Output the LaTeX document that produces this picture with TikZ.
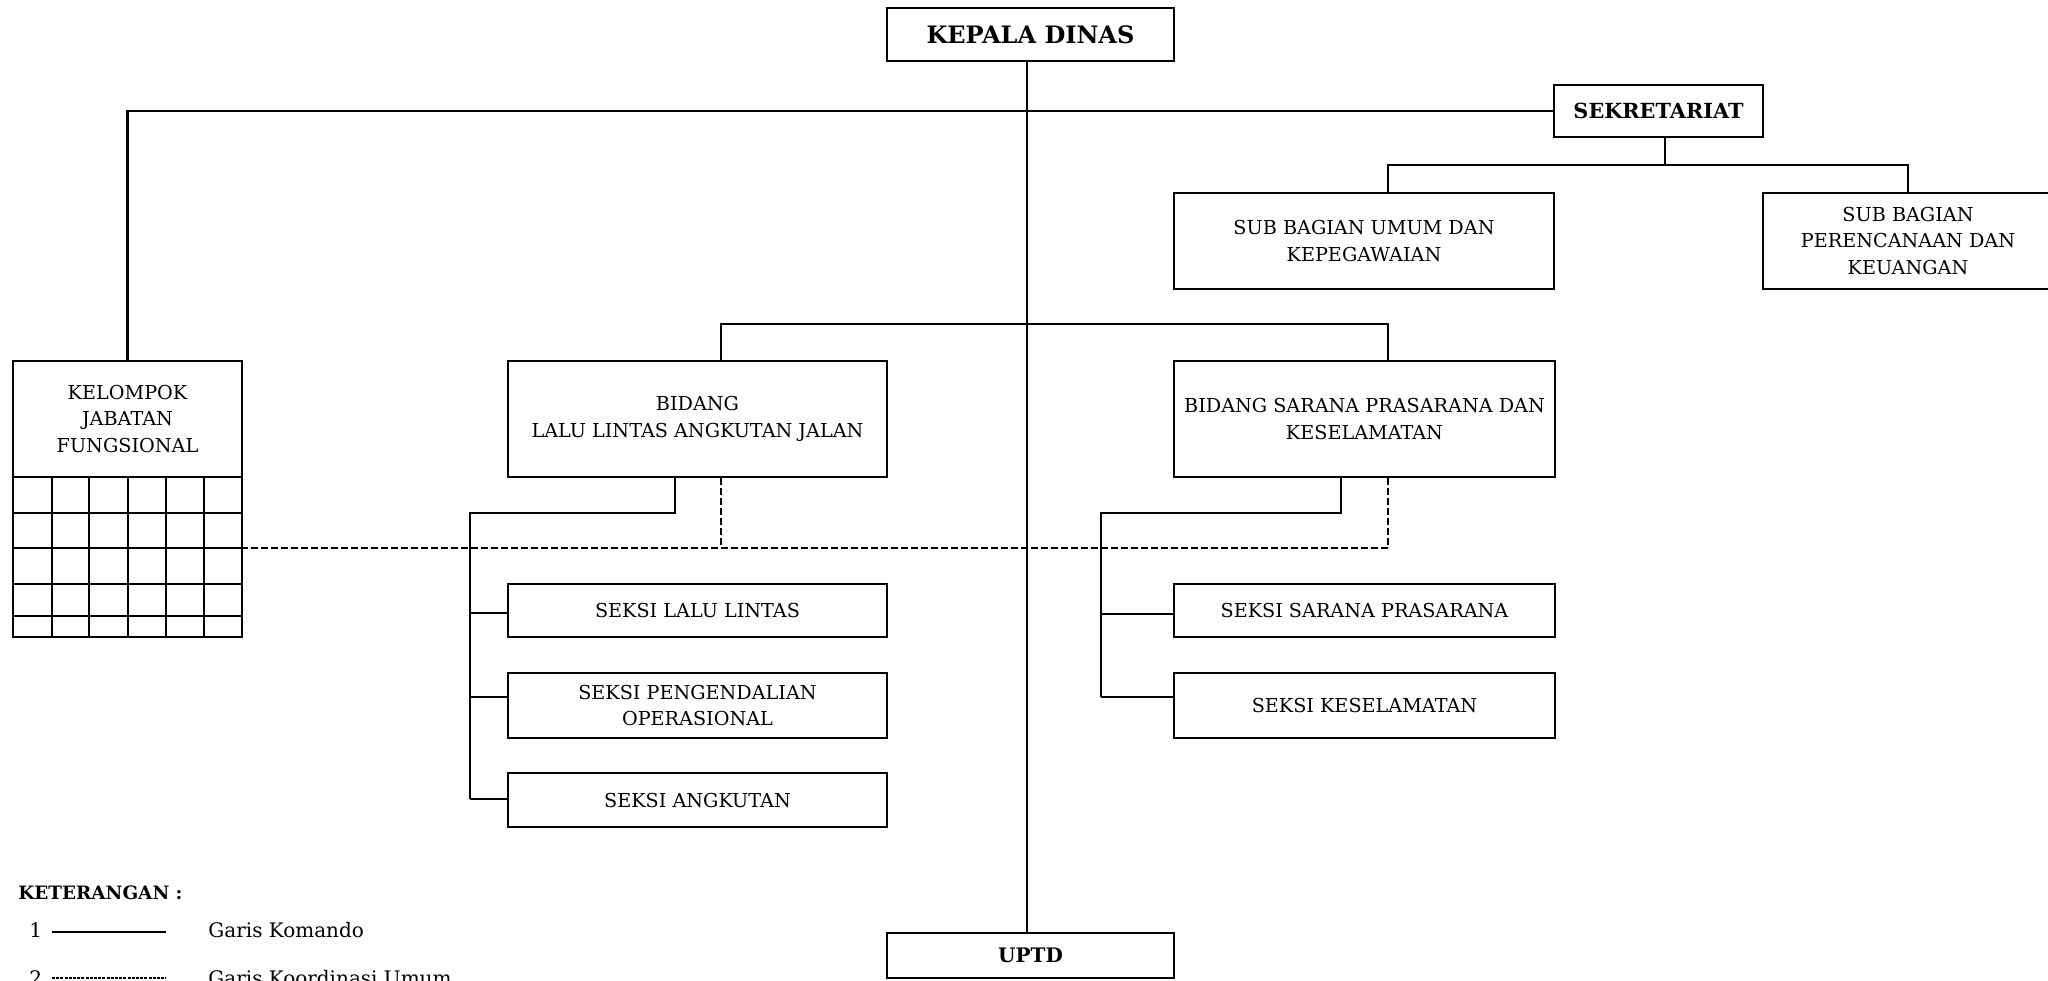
\documentclass[tikz,border=0pt]{standalone}
\usepackage{fontspec}
\setmainfont{DejaVu Serif}
\newcommand\bx[6][]{\node[box,#1,minimum width={(#5-#3)*0.5pt},minimum height={(#6-#4)*0.5pt}] (#2) at ({(#3+#5)/2},{(#4+#6)/2})}
\begin{document}
\begin{tikzpicture}[x=0.5pt,y=-0.5pt,
  box/.style={draw,line width=1.25pt,inner sep=0pt,align=center,font=\fontsize{9.6}{13.2}\selectfont},
  bold/.style={font=\fontsize{10.4}{12}\selectfont\bfseries},
  cmd/.style={line width=1.25pt},
  coord/.style={line width=1.1pt,dash pattern=on 3.5pt off 1.5pt},
  gridln/.style={line width=1pt},
  legtext/.style={anchor=base west,inner sep=0pt,font=\fontsize{10}{12}\selectfont}]
\useasboundingbox (0,0) rectangle (2048,980);
\clip (0,0) rectangle (2048,980);

% boxes
\bx[bold,font=\fontsize{12}{14}\selectfont\bfseries]{kd}{887}{8}{1174}{61}{KEPALA DINAS};
\bx[bold]{sek}{1554}{85}{1763}{137}{SEKRETARIAT};
\bx{sbu}{1174}{193}{1554}{289}{SUB BAGIAN UMUM DAN\\KEPEGAWAIAN};
\bx{sbp}{1763}{193}{2053}{289}{SUB BAGIAN\\PERENCANAAN DAN\\KEUANGAN};
\bx{kel}{13}{361}{242}{477}{KELOMPOK\\JABATAN\\FUNGSIONAL};
\bx{kgrid}{13}{477}{242}{637}{};
\bx{bll}{508}{361}{887}{477}{BIDANG\\LALU LINTAS ANGKUTAN JALAN};
\bx{bsp}{1174}{361}{1555}{477}{BIDANG SARANA PRASARANA DAN\\KESELAMATAN};
\bx{sll}{508}{584}{887}{637}{SEKSI LALU LINTAS};
\bx{spo}{508}{673}{887}{738}{SEKSI PENGENDALIAN\\OPERASIONAL};
\bx{sa}{508}{773}{887}{827}{SEKSI ANGKUTAN};
\bx{ssp}{1174}{584}{1555}{637}{SEKSI SARANA PRASARANA};
\bx{sk}{1174}{673}{1555}{738}{SEKSI KESELAMATAN};
\bx[font=\fontsize{10}{12}\selectfont\bfseries]{uptd}{887}{933}{1174}{978}{UPTD};

% grid of kelompok
\foreach \gx in {52,89,128,166,204} \draw[gridln] (\gx,477) -- (\gx,637);
\foreach \gy in {513,548,584,616} \draw[gridln] (13,\gy) -- (242,\gy);

% helper coordinates
\coordinate (cx) at (1027,0);
\coordinate (sx) at (1665,165);
\coordinate (ux) at (1388,165);
\coordinate (b2) at (0,324);
\coordinate (dl) at (721,0);
\coordinate (dr) at (1388,0);
\coordinate (dy) at (0,548);
\coordinate (ll) at (675,513);
\coordinate (lv) at (470,513);
\coordinate (lb1) at (470,613);
\coordinate (lb2) at (470,697);
\coordinate (lb3) at (470,799);
\coordinate (rl) at (1341,513);
\coordinate (rv) at (1101,513);
\coordinate (rb1) at (1101,614);
\coordinate (rb2) at (1101,697);

% command lines
\draw[cmd] (kd.south -| cx) -- (uptd.north -| cx);
\draw[cmd] (kel.north) |- (sek.west);
\draw[cmd] (sek.south -| sx) -- (sx);
\draw[cmd] (sbu.north -| ux) -- (ux) -- (sbp.north |- sx) -- (sbp.north);
\draw[cmd] (bll.north -| dl) -- (dl |- b2) -- (dr |- b2) -- (bsp.north -| dr);
\draw[cmd] (bll.south -| ll) -- (ll) -- (lv) -- (lb3);
\draw[cmd] (lb1) -- (sll.west |- lb1);
\draw[cmd] (lb2) -- (spo.west |- lb2);
\draw[cmd] (lb3) -- (sa.west |- lb3);
\draw[cmd] (bsp.south -| rl) -- (rl) -- (rv) -- (rb2);
\draw[cmd] (rb1) -- (ssp.west |- rb1);
\draw[cmd] (rb2) -- (sk.west |- rb2);

% coordination lines
\draw[coord] (bll.south -| dl) -- (dl |- dy);
\draw[coord] (bsp.south -| dr) -- (dr |- dy) -- (kgrid.east |- dy);

% legend
\node[legtext,font=\fontsize{9.2}{10}\selectfont\bfseries] (ket) at (18,899) {KETERANGAN :};
\node[legtext] (n1) at (29,937) {1};
\coordinate (l1a) at (52,932);
\coordinate (l1b) at (166,932);
\draw[line width=1pt] (l1a) -- (l1b);
\node[legtext] (g1) at (208,937) {Garis Komando};
\node[legtext] (n2) at (29,985) {2};
\coordinate (l2a) at (52,978);
\coordinate (l2b) at (166,978);
\draw[line width=1pt,dash pattern=on 1.5pt off 0.6pt] (l2a) -- (l2b);
\node[legtext] (g2) at (208,985) {Garis Koordinasi Umum};
\end{tikzpicture}
\end{document}
